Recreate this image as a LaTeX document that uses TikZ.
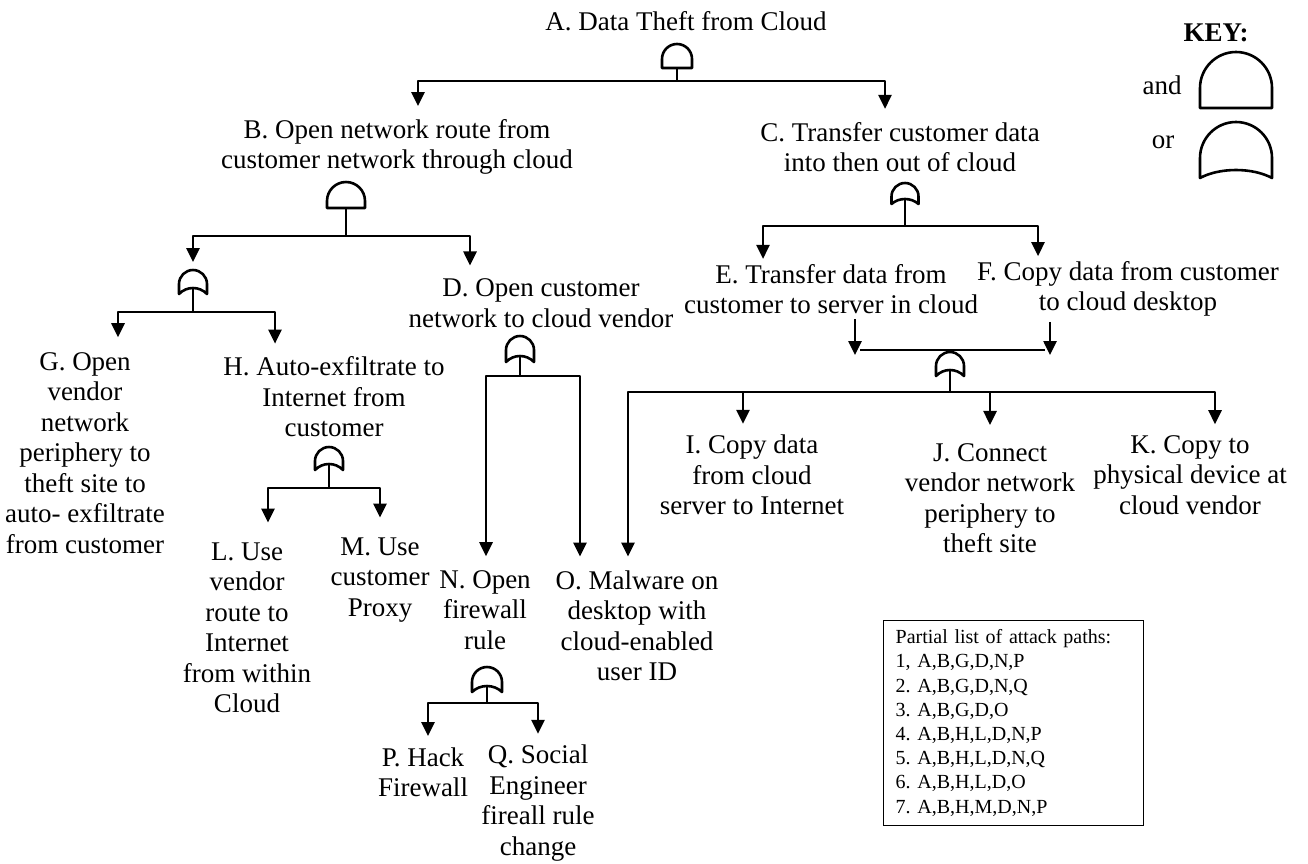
\documentclass[tikz,border=0pt]{standalone}
\usepackage{fontspec}
\setmainfont{Liberation Serif}
\usetikzlibrary{arrows.meta}
\frenchspacing
\newcommand\lblfont{\fontsize{27}{30.5}\selectfont}
\newcommand\listfont{\fontsize{20}{24.2}\selectfont}
\tikzset{
  lbl/.style={align=center, inner sep=0pt, font=\lblfont},
  conn/.style={line width=2.6pt, line join=round},
  arr/.style={conn, -{Triangle[length=14pt,width=13pt]}},
  pics/andgate/.style args={#1/#2}{code={
    \draw[conn] (-#1,0) -- (-#1,{#1-#2}) arc[start angle=180,end angle=0,radius=#1pt] -- (#1,0) -- cycle;
    \coordinate (-out) at (0,0);
    \coordinate (-top) at (0,-#2);
  }},
  pics/orgate/.style args={#1/#2/#3}{code={
    \draw[conn] (-#1,0) -- (-#1,{#1-#2}) arc[start angle=180,end angle=0,radius=#1pt] -- (#1,0)
      .. controls ({0.45*#1},{-4*#3/3}) and ({-0.45*#1},{-4*#3/3}) .. cycle;
    \coordinate (-out) at (0,-#3);
    \coordinate (-top) at (0,-#2);
  }}
}
\begin{document}
\begin{tikzpicture}[x=1pt,y=-1pt]
\useasboundingbox (0,0) rectangle (1308,863);
% events
\node[lbl] (A) at (686,21) {A. Data Theft from Cloud};
\node[lbl] (B) at (397,147) {B. Open network route from\\customer network through cloud};
\node[lbl] (C) at (900,147) {C. Transfer customer data\\into then out of cloud};
\node[lbl] (D) at (541,303) {D. Open customer\\network to cloud vendor};
\node[lbl] (E) at (831,289) {E. Transfer data from\\customer to server in cloud};
\node[lbl] (F) at (1128,289) {F. Copy data from customer\\to cloud desktop};
\node[lbl] (G) at (85,453) {G. Open\\vendor\\network\\periphery to\\theft site to\\auto- exfiltrate\\from customer};
\node[lbl] (H) at (334,397) {H. Auto-exfiltrate to\\Internet from\\customer};
\node[lbl] (I) at (752,475) {I. Copy data\\from cloud\\server to Internet};
\node[lbl] (J) at (990,498) {J. Connect\\vendor network\\periphery to\\theft site};
\node[lbl] (K) at (1190,475) {K. Copy to\\physical device at\\cloud vendor};
\node[lbl] (L) at (247,628) {L. Use\\vendor\\route to\\Internet\\from within\\Cloud};
\node[lbl] (M) at (380,580) {M. Use\\customer\\Proxy};
\node[lbl] (N) at (485,610) {N. Open\\firewall\\rule};
\node[lbl] (O) at (637,626) {O. Malware on\\desktop with\\cloud-enabled\\user ID};
\node[lbl] (P) at (423,772) {P. Hack\\Firewall};
\node[lbl] (Q) at (538,803) {Q. Social\\Engineer\\fireall rule\\change};

% gates
\pic (gA) at (677,68) {andgate=15/24};
\pic (gB) at (346,208) {andgate=19/26};
\pic (gGH) at (193,294) {orgate=14/24/6};
\pic (gH) at (329,470) {orgate=14/23/6};
\pic (gC) at (905,204) {orgate=13.5/21/5};
\pic (gD) at (520,362) {orgate=14/26/6};
\pic (gN) at (487,692) {orgate=15/25/6};
\pic (gEF) at (950,376) {orgate=14/24/6};

% junctions
\coordinate (barA) at (677,81);
\coordinate (barB) at (346,236);
\coordinate (barGH) at (193,312);
\coordinate (barH) at (329,488);
\coordinate (barC) at (905,226);
\coordinate (barD) at (520,376);
\coordinate (barN) at (487,703);
\coordinate (joinEF) at (950,350);
\coordinate (barEF) at (950,392);

\draw[conn] (gA-out) -- (barA);
\draw[arr] (barA) -| ([xshift=21pt,yshift=13pt]B.north);
\draw[arr] (barA) -| ([xshift=-15pt,yshift=13pt]C.north);

\draw[conn] (gB-out) -- (barB);
\draw[arr] (barB) -| ([yshift=8pt]gGH-top);
\draw[arr] (barB) -| ([xshift=-71pt,yshift=13pt]D.north);

\draw[conn] (gGH-out) -- (barGH);
\draw[arr] (barGH) -| ([xshift=33pt,yshift=15pt]G.north);
\draw[arr] (barGH) -| ([xshift=-59pt,yshift=13pt]H.north);

\draw[conn] (gH-out) -- (barH);
\draw[arr] (barH) -| ([xshift=21pt,yshift=20pt]L.north);
\draw[arr] (barH) -| ([yshift=20pt]M.north);

\draw[conn] (gD-out) -- (barD);
\draw[arr] (barD) -| ([xshift=1pt,yshift=14pt]N.north);
\draw[arr] (barD) -| ([xshift=-57pt,yshift=14pt]O.north);

\draw[conn] (gN-out) -- (barN);
\draw[arr] (barN) -| ([xshift=5pt,yshift=11pt]P.north);
\draw[arr] (barN) -| ([yshift=11pt]Q.north);

\draw[conn] (gC-out) -- (barC);
\draw[arr] (barC) -| ([xshift=-68pt,yshift=5pt]E.north);
\draw[arr] (barC) -| ([xshift=-90pt,yshift=5pt]F.north);

\draw[arr] ([xshift=24pt,yshift=-5pt]E.south) -- ([xshift=24pt,yshift=-5pt]E.south |- joinEF);
\draw[arr] ([xshift=-78pt,yshift=-5pt]F.south) -- ([xshift=-78pt,yshift=-5pt]F.south |- joinEF);
\draw[conn] ([xshift=-90pt]joinEF) -- ([xshift=95pt]joinEF);

\draw[conn] (gEF-out) -- (barEF);
\draw[arr] (barEF) -| ([xshift=-9pt,yshift=11pt]I.north);
\draw[arr] (barEF) -| ([yshift=18pt]J.north);
\draw[arr] (barEF) -| ([xshift=25pt,yshift=11pt]K.north);
\draw[arr] (barEF) -| ([xshift=-9pt,yshift=14pt]O.north);

% key
\node[lbl, font=\lblfont\bfseries] (key) at (1216,33) {KEY:};
\node[lbl] (andlbl) at (1162,85) {and};
\node[lbl] (orlbl) at (1163,142) {or};
\pic (kAnd) at (1236,108) {andgate=36/56};
\pic (kOr) at (1236,178) {orgate=36/56/8};

% attack paths
\node[draw, line width=1.4pt, anchor=north west, align=left, text width=236pt,
  inner xsep=12pt, inner ysep=9pt, font=\listfont] (paths) at (883,620)
  {Partial list of attack paths:\\1, A,B,G,D,N,P\\2. A,B,G,D,N,Q\\3. A,B,G,D,O\\4. A,B,H,L,D,N,P\\5. A,B,H,L,D,N,Q\\6. A,B,H,L,D,O\\7. A,B,H,M,D,N,P};
\end{tikzpicture}
\end{document}
